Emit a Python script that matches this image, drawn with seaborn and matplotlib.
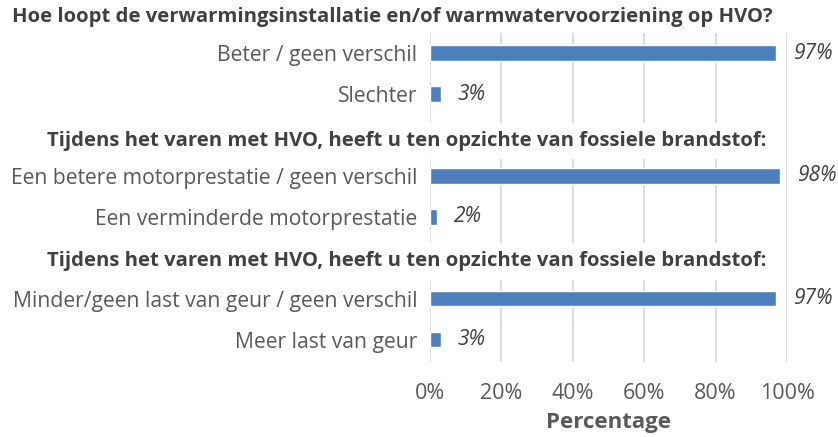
import numpy as np
import pandas as pd
import matplotlib
matplotlib.use("Agg")
import matplotlib.pyplot as plt
import seaborn as sns

headings = [
    "Hoe loopt de verwarmingsinstallatie en/of warmwatervoorziening op HVO?",
    "Tijdens het varen met HVO, heeft u ten opzichte van fossiele brandstof:",
    "Tijdens het varen met HVO, heeft u ten opzichte van fossiele brandstof:",
]
categories = [
    "Beter / geen verschil",
    "Slechter",
    "__h2",
    "Een betere motorprestatie / geen verschil",
    "Een verminderde motorprestatie",
    "__h3",
    "Minder/geen last van geur / geen verschil",
    "Meer last van geur",
]
values = [97, 3, np.nan, 98, 2, np.nan, 97, 3]
xticks = [0, 20, 40, 60, 80, 100]

sns.set_theme(style="white")
plt.rcParams["font.family"] = ["Open Sans", "DejaVu Sans"]

df = pd.DataFrame({"cat": categories, "val": values})

fig = plt.figure(figsize=(8.38, 4.37), dpi=100)
ax = fig.add_axes([430/838, 1-362/437, (787-430)/838, (362-33)/437])

sns.barplot(data=df, x="val", y="cat", order=categories, color="#4e7fbd",
            saturation=1, width=0.37, ax=ax)

ax.set_xlim(0, 100)
ax.set_ylim(7.54, -0.49)
ax.set_xticks(xticks)
ax.set_xticklabels([f"{t}%" for t in xticks], color="#595959", fontsize=15.5)
ax.tick_params(axis="x", length=0, pad=15)
ax.tick_params(axis="y", length=0, pad=9)
ax.xaxis.grid(True, color="#d9d9d9", linewidth=1.3)
ax.set_axisbelow(True)
for s in ax.spines.values():
    s.set_visible(False)

labels = ["" if c.startswith("__") else c for c in categories]
ax.set_yticks(range(len(categories)))
ax.set_yticklabels(labels, color="#595959", fontsize=15.2)
ax.set_ylabel("")
ax.set_xlabel("Percentage", fontsize=16, fontweight="bold", color="#595959", labelpad=6)

for i, v in enumerate(values):
    if not np.isnan(v):
        ax.annotate(f"{v:.0f}%", (v, i), xytext=(12, 0), textcoords="offset points",
                    va="center", ha="left", fontsize=15, style="italic", color="#404040")

# headings
fig.text(12/838, 1-17/437, headings[0], fontsize=14.6, fontweight="bold",
         color="#404040", ha="left", va="center")
for i, yi in [(1, 2.15), (2, 5.08)]:
    ax.text((407-430)/357, yi, headings[i], transform=ax.get_yaxis_transform(),
            fontsize=14.6, fontweight="bold", color="#404040", ha="center", va="center",
            bbox=dict(facecolor="white", edgecolor="none", pad=6), zorder=5)

fig.savefig("out.png", dpi=100)
